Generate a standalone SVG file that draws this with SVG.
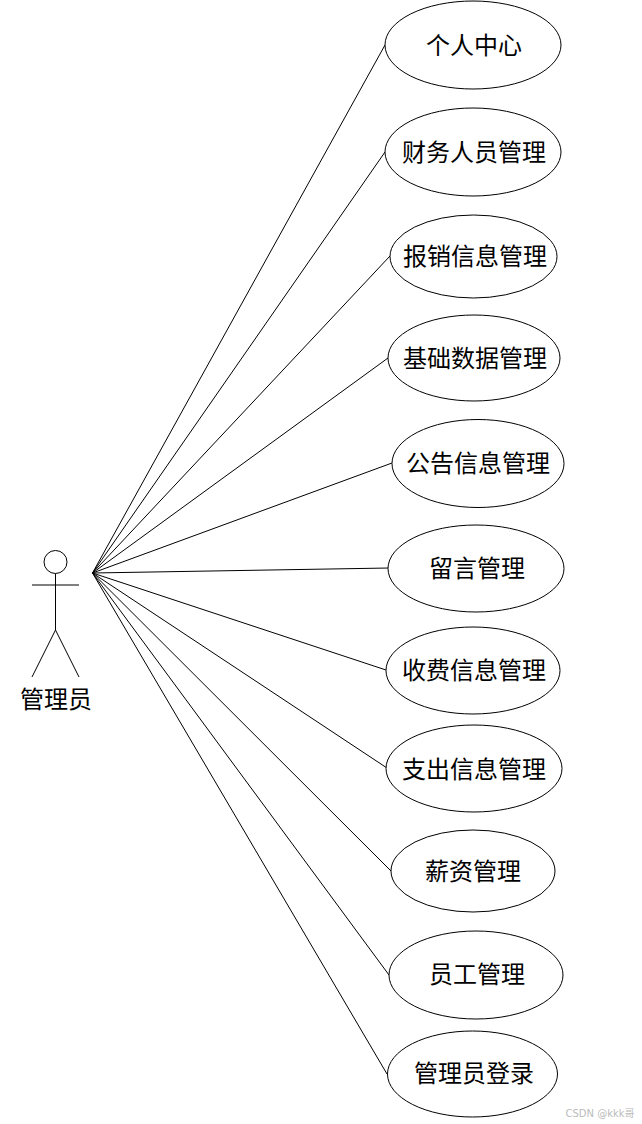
<svg xmlns="http://www.w3.org/2000/svg" width="642" height="1124" viewBox="0 0 642 1124">
<style>
text{font-family:"Liberation Sans","Noto Sans CJK SC",sans-serif;font-size:24px;fill:#000;text-anchor:middle}
.s{fill:#fff;stroke:#000;stroke-width:1}
.l{fill:none;stroke:#000;stroke-width:1}
</style>
<rect width="642" height="1124" fill="#fff"/>
<g id="connectors" class="l">
<path d="M92.500 573L385 45"/><path d="M92.500 573L385 152"/><path d="M92.500 573L390 256"/><path d="M92.500 573L388 358"/><path d="M92.500 573L392 463"/><path d="M92.500 573L389 568"/><path d="M92.500 573L386 670"/><path d="M92.500 573L387 768"/><path d="M92.500 573L391 871"/><path d="M92.500 573L389 975"/><path d="M92.500 573L387 1074"/>
</g>
<g id="actor" class="l"><circle cx="55.500" cy="562" r="11.500"/><path d="M55.500 573.500V630M32 585H79M55.500 630L32 677M55.500 630L79 677"/><text x="56" y="707.500" style="stroke:none">管理员</text></g>
<g id="n1"><ellipse class="s" cx="473" cy="45" rx="88" ry="44"/><text x="474" y="53.500">个人中心</text></g>
<g id="n2"><ellipse class="s" cx="473" cy="152" rx="88" ry="44"/><text x="474" y="160.500">财务人员管理</text></g>
<g id="n3"><ellipse class="s" cx="473.500" cy="256.500" rx="83.500" ry="41.500"/><text x="475" y="264.500">报销信息管理</text></g>
<g id="n4"><ellipse class="s" cx="474" cy="358" rx="86" ry="43"/><text x="475" y="366.500">基础数据管理</text></g>
<g id="n5"><ellipse class="s" cx="478" cy="463.500" rx="86" ry="44"/><text x="478" y="471.500">公告信息管理</text></g>
<g id="n6"><ellipse class="s" cx="476" cy="568.500" rx="88" ry="43.500"/><text x="477" y="576.500">留言管理</text></g>
<g id="n7"><ellipse class="s" cx="473" cy="670.500" rx="87" ry="43.500"/><text x="474" y="678.500">收费信息管理</text></g>
<g id="n8"><ellipse class="s" cx="474" cy="768.500" rx="88" ry="43.500"/><text x="474" y="777.500">支出信息管理</text></g>
<g id="n9"><ellipse class="s" cx="473" cy="871" rx="82" ry="41"/><text x="473" y="879.500">薪资管理</text></g>
<g id="n10"><ellipse class="s" cx="476" cy="975" rx="87" ry="44"/><text x="477" y="982.500">员工管理</text></g>
<g id="n11"><ellipse class="s" cx="472.500" cy="1074" rx="85" ry="43"/><text x="474" y="1081.500">管理员登录</text></g>
<text x="600" y="1117" style="font-size:11px;fill:#bbb;font-family:'DejaVu Sans','Noto Sans CJK SC',sans-serif;font-size:10px">CSDN @kkk哥</text>
</svg>
